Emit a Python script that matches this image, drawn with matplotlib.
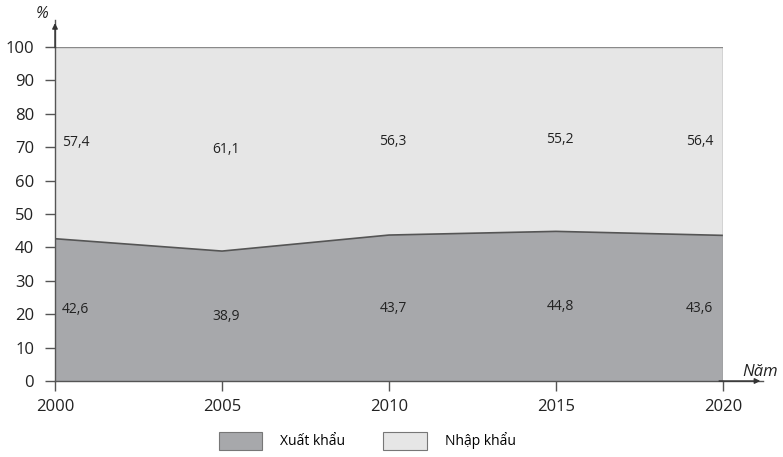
import matplotlib.pyplot as plt

plt.rcParams['font.family'] = ['Open Sans', 'DejaVu Sans']

# Data
years = [2000, 2005, 2010, 2015, 2020]
xuat_khau = [42.6, 38.9, 43.7, 44.8, 43.6]
nhap_khau = [57.4, 61.1, 56.3, 55.2, 56.4]
yticks = [0, 10, 20, 30, 40, 50, 60, 70, 80, 90, 100]

dark = '#a7a8ab'
light = '#e6e6e6'
axis_col = '#555555'

fig = plt.figure(figsize=(7.83, 4.57), dpi=100)
ax = fig.add_axes([55 / 783, 76 / 457, 668 / 783, 334 / 457])

ax.stackplot(years, xuat_khau, nhap_khau, colors=[dark, light], labels=['Xuất khẩu', 'Nhập khẩu'])
ax.plot(years, xuat_khau, color='#555555', lw=1.2)
ax.plot([years[0], years[-1]], [100, 100], color='#8a8a8a', lw=1)
ax.plot([years[-1], years[-1]], [0, 100], color='#8a8a8a', lw=1)

ax.set_xlim(years[0], years[-1])
ax.set_ylim(0, 100)
for s in ['top', 'right']:
    ax.spines[s].set_visible(False)
for s in ['left', 'bottom']:
    ax.spines[s].set_color(axis_col)
    ax.spines[s].set_linewidth(1)

ax.set_xticks(years)
ax.set_yticks(yticks)
ax.tick_params(axis='both', colors=axis_col, labelcolor='#222222', labelsize=12, length=7, width=1)
ax.tick_params(axis='y', pad=8)
ax.tick_params(axis='x', pad=6)

# axis arrows
ax.annotate('', xy=(1.06, 0), xycoords='axes fraction', xytext=(0.99, 0),
            arrowprops=dict(arrowstyle='-|>', color='#333333', lw=1, mutation_scale=8), annotation_clip=False)
ax.plot([1, 1.06], [0, 0], transform=ax.transAxes, color=axis_col, lw=1, clip_on=False)
ax.annotate('', xy=(0, 1.08), xycoords='axes fraction', xytext=(0, 0.99),
            arrowprops=dict(arrowstyle='-|>', color='#333333', lw=1, mutation_scale=8), annotation_clip=False)
ax.plot([0, 0], [1, 1.08], transform=ax.transAxes, color=axis_col, lw=1, clip_on=False)
ax.text(-0.02, 1.10, '%', transform=ax.transAxes, fontsize=11.5, style='italic', ha='center', va='center', color='#222222')
ax.text(1.082, 0.015, 'Năm', transform=ax.transAxes, fontsize=12, style='italic', ha='right', va='baseline', color='#222222')

# value labels centred in each band
for i, (x, a, b) in enumerate(zip(years, xuat_khau, nhap_khau)):
    if i == 0:
        ha, dx = 'left', 5
    elif i == len(years) - 1:
        ha, dx = 'right', -7
    else:
        ha, dx = 'center', 3
    for yv, txt in [(a / 2, a), (a + b / 2, b)]:
        ax.annotate(f'{txt:.1f}'.replace('.', ','), (x, yv), xytext=(dx, 0), textcoords='offset points',
                    ha=ha, va='center', fontsize=10, color='#222222')

fig.legend(loc='lower center', bbox_to_anchor=(0.469, -0.012), ncol=2, frameon=False, fontsize=10,
           handlelength=3.15, handleheight=1.65, columnspacing=2.7, handletextpad=1.3)
for p in fig.legends[0].get_patches():
    p.set_edgecolor('#777777')
    p.set_linewidth(0.8)

fig.savefig('out.png', dpi=100)
